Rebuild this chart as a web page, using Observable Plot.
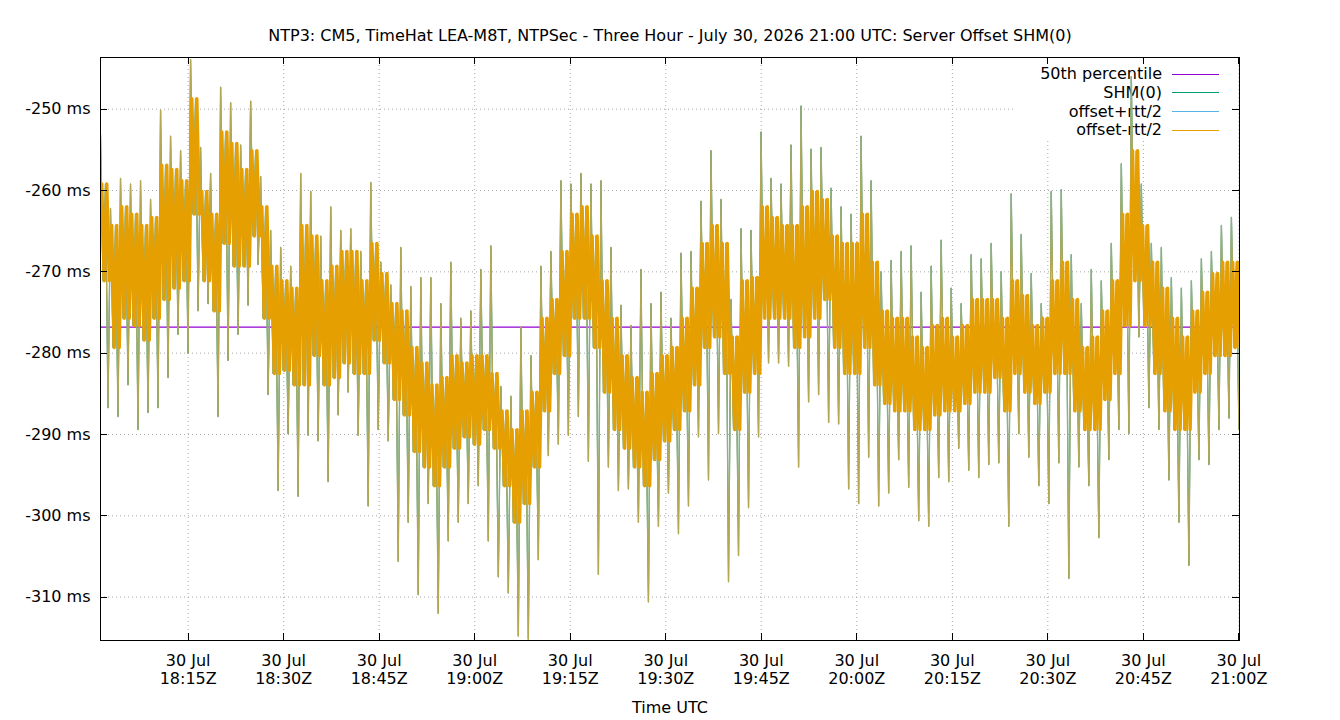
<!DOCTYPE html>
<html><head><meta charset="utf-8">
<script src="https://cdn.jsdelivr.net/npm/d3@7"></script>
<script src="https://cdn.jsdelivr.net/npm/@observablehq/plot@0.6"></script>
<style>body{margin:0;background:#fff;} #chart{width:1340px;height:720px;}</style>
</head><body><div id="chart"></div>
<script>
const title = "NTP3: CM5, TimeHat LEA-M8T, NTPSec - Three Hour - July 30, 2026 21:00 UTC: Server Offset SHM(0)";
const xLabel = "Time UTC";
const medianMs = -276.8;

// Per ~94 s bin (ms): extreme high spike, dense-band top, dense-band bottom, extreme low spike
const spikeHigh = [-253.1,-262.2,-258.5,-259.2,-258.8,-261.1,-250.1,-253.3,-255.1,-243.9,
-254.7,-257.9,-247.3,-249.2,-254.4,-249.0,-258.3,-264.9,-267.0,-269.3,
-257.9,-260.1,-265.6,-262.0,-264.9,-264.7,-267.5,-259.0,-268.8,-271.6,
-267.0,-271.8,-270.7,-270.7,-273.9,-268.8,-275.7,-274.8,-269.7,-266.8,
-284.1,-285.3,-276.8,-280.3,-269.3,-267.5,-258.8,-259.2,-257.9,-259.2,
-258.8,-267.0,-274.1,-276.6,-269.7,-273.9,-272.5,-275.7,-267.7,-267.5,
-261.3,-255.1,-261.1,-273.4,-264.7,-264.9,-252.8,-258.5,-259.2,-254.4,
-249.6,-254.9,-254.7,-259.7,-262.0,-262.9,-253.3,-258.8,-270.0,-268.6,
-267.5,-266.8,-272.5,-269.3,-266.1,-272.0,-273.9,-267.9,-268.4,-266.5,
-270.0,-260.4,-265.4,-270.2,-273.9,-260.1,-259.9,-267.9,-273.9,-269.7,
-271.1,-266.5,-256.7,-246.0,-259.2,-266.5,-267.0,-270.7,-272.0,-271.1,
-268.4,-267.5,-264.3,-263.3];
const coreHigh = [-259.2,-264.3,-262.0,-262.9,-264.3,-263.3,-256.9,-257.4,-258.8,-248.7,
-260.1,-262.9,-252.8,-254.2,-257.4,-255.1,-262.0,-269.3,-271.1,-272.0,
-264.3,-265.6,-271.1,-269.3,-267.5,-267.5,-271.1,-266.5,-270.2,-273.9,
-274.8,-279.3,-281.2,-283.9,-283.0,-280.3,-281.2,-280.3,-280.3,-282.5,
-287.1,-289.4,-287.1,-284.8,-275.7,-273.4,-267.5,-262.9,-262.0,-265.6,
-271.1,-275.7,-280.3,-283.0,-284.8,-282.5,-280.3,-279.3,-275.7,-272.0,
-266.5,-264.3,-266.5,-278.0,-271.1,-270.7,-262.0,-263.3,-264.3,-264.3,
-262.0,-260.1,-261.1,-265.6,-266.5,-266.5,-262.9,-268.8,-274.8,-275.7,
-275.7,-278.0,-279.3,-276.6,-275.7,-278.0,-276.6,-273.4,-273.4,-273.4,
-275.7,-271.1,-272.9,-276.6,-275.7,-271.1,-268.8,-273.4,-279.3,-278.0,
-274.8,-271.1,-262.9,-255.1,-264.3,-268.8,-272.0,-275.7,-278.0,-274.8,
-272.5,-270.2,-268.8,-268.8];
const coreLow = [-271.1,-279.3,-275.7,-276.6,-278.4,-275.7,-273.4,-272.0,-271.1,-262.9,
-271.1,-274.8,-266.5,-269.3,-269.3,-265.6,-275.7,-282.5,-282.1,-283.9,
-283.9,-280.3,-283.9,-283.0,-281.2,-282.5,-282.5,-278.4,-281.2,-285.7,
-287.6,-292.1,-294.0,-296.3,-294.0,-291.7,-290.3,-291.2,-289.4,-291.7,
-296.3,-300.8,-298.5,-294.0,-287.1,-282.5,-280.3,-275.7,-275.7,-279.3,
-284.8,-289.4,-291.7,-294.0,-296.3,-293.1,-290.8,-289.4,-287.1,-283.9,
-279.3,-278.0,-282.5,-289.4,-284.8,-282.5,-275.7,-275.7,-275.7,-279.3,
-278.0,-275.7,-273.4,-279.3,-282.5,-282.5,-279.3,-283.9,-286.2,-287.1,
-287.1,-289.4,-289.4,-287.6,-287.1,-287.1,-286.2,-284.8,-284.8,-283.0,
-287.1,-282.5,-284.8,-286.2,-284.8,-282.5,-282.5,-287.1,-289.4,-289.4,
-285.7,-282.5,-276.6,-271.1,-276.6,-282.5,-287.1,-289.4,-289.4,-284.8,
-282.5,-280.3,-280.3,-279.3];
const spikeLow = [-286.7,-287.8,-283.9,-289.4,-287.3,-286.7,-283.0,-277.7,-280.0,-274.8,
-273.9,-287.8,-280.9,-277.7,-274.1,-269.1,-285.1,-296.9,-289.9,-297.6,
-290.1,-290.8,-295.8,-287.6,-284.8,-290.1,-298.8,-289.4,-290.8,-305.6,
-300.8,-309.7,-298.5,-312.0,-303.1,-300.8,-298.5,-296.3,-303.1,-307.5,
-309.5,-314.8,-315.2,-305.4,-292.6,-291.2,-290.1,-287.8,-293.3,-307.2,
-294.0,-296.9,-296.7,-300.8,-310.6,-301.3,-297.2,-302.2,-298.8,-290.3,
-295.6,-289.9,-308.1,-304.9,-299.0,-290.3,-281.2,-281.2,-281.6,-294.0,
-286.0,-285.1,-288.5,-288.7,-296.7,-298.5,-292.8,-298.8,-297.2,-293.1,
-296.5,-300.6,-301.3,-295.3,-295.8,-291.7,-294.4,-295.3,-293.7,-293.5,
-301.3,-289.9,-292.8,-296.3,-298.5,-293.5,-307.7,-294.0,-296.3,-302.7,
-293.1,-289.4,-289.9,-278.0,-286.7,-289.4,-295.6,-300.8,-306.1,-293.1,
-293.7,-289.4,-288.0,-289.4];

const xTickTimes = ["2026-07-30T18:15:00Z","2026-07-30T18:30:00Z","2026-07-30T18:45:00Z","2026-07-30T19:00:00Z",
"2026-07-30T19:15:00Z","2026-07-30T19:30:00Z","2026-07-30T19:45:00Z","2026-07-30T20:00:00Z",
"2026-07-30T20:15:00Z","2026-07-30T20:30:00Z","2026-07-30T20:45:00Z","2026-07-30T21:00:00Z"];
const xTickDay = "30 Jul";
const xTickClock = ["18:15Z","18:30Z","18:45Z","19:00Z","19:15Z","19:30Z","19:45Z","20:00Z","20:15Z","20:30Z","20:45Z","21:00Z"];
const yTicks = [-250,-260,-270,-280,-290,-300,-310];
const yTickLabels = ["-250 ms","-260 ms","-270 ms","-280 ms","-290 ms","-300 ms","-310 ms"];
const seriesNames = ["50th percentile","SHM(0)","offset+rtt/2","offset-rtt/2"];
const seriesColors = ["#9400d3","#009e73","#56b4e9","#e69f00"];

const domainStart = new Date("2026-07-30T18:01:14Z");
const domainEnd = new Date("2026-07-30T21:00:06Z");
const binSeconds = 94.3;

const xTickDates = xTickTimes.map(s => new Date(s));
// full excursions (all samples) and the dense band of the same series
const samples = [];
const coreSamples = [];
spikeHigh.forEach((h, i) => {
  [spikeHigh[i], coreLow[i], coreHigh[i], spikeLow[i]].forEach((v, k) =>
    samples.push({t: new Date(+domainStart + (i + k / 4) * binSeconds * 1000), v}));
  [coreHigh[i], coreLow[i], coreHigh[i], coreLow[i]].forEach((v, k) =>
    coreSamples.push({t: new Date(+domainStart + (i + (k + 0.5) / 4) * binSeconds * 1000), v}));
});

function legendMark(index, scales, values, dims) {
  const g = d3.create("svg:g");
  const right = dims.width - dims.marginRight;
  const top = dims.marginTop;
  g.append("rect").attr("x", right - 226).attr("y", top + 1).attr("width", 216).attr("height", 80).attr("fill", "white");
  seriesNames.forEach((name, i) => {
    const yy = top + 16.5 + i * 18.7;
    g.append("text").attr("x", right - 77).attr("y", yy).attr("dy", "0.35em")
      .attr("text-anchor", "end").attr("fill", "black").text(name);
    g.append("line").attr("x1", right - 67).attr("x2", right - 20).attr("y1", Math.round(yy) + 0.5).attr("y2", Math.round(yy) + 0.5)
      .attr("stroke", seriesColors[i]).attr("stroke-width", 1);
  });
  return g.node();
}

function frameTicks(index, {x, y}, values, dims) {
  const g = d3.create("svg:g").attr("stroke", "black").attr("stroke-width", 1);
  const L = dims.marginLeft, R = dims.width - dims.marginRight, T = dims.marginTop, B = dims.height - dims.marginBottom;
  yTicks.forEach(v => {
    const yy = Math.round(y(v)) + 0.5;
    g.append("line").attr("x1", L).attr("x2", L + 7).attr("y1", yy).attr("y2", yy);
    g.append("line").attr("x1", R - 7).attr("x2", R).attr("y1", yy).attr("y2", yy);
  });
  xTickDates.forEach(d => {
    const xx = Math.round(x(d)) + 0.5;
    g.append("line").attr("x1", xx).attr("x2", xx).attr("y1", B - 7).attr("y2", B);
    g.append("line").attr("x1", xx).attr("x2", xx).attr("y1", T).attr("y2", T + 7);
  });
  return g.node();
}

const gridStyle = {stroke: "#a8a8a8", strokeWidth: 1, strokeDasharray: "1,3"};

const chart = Plot.plot({
  width: 1340, height: 720,
  marginLeft: 100, marginRight: 101, marginTop: 57, marginBottom: 80,
  style: {fontFamily: "DejaVu Sans, sans-serif", fontSize: "16px", background: "white", color: "black"},
  x: {type: "utc", domain: [domainStart, domainEnd], axis: null},
  y: {domain: [-315.34, -243.64], axis: null},
  marks: [
    Plot.ruleX(xTickDates, {x: d => d, ...gridStyle}),
    Plot.ruleY(yTicks, {y: d => d, ...gridStyle}),
    legendMark,
    Plot.ruleY([medianMs], {y: d => d, stroke: seriesColors[0], strokeWidth: 1.3}),
    Plot.lineY(samples, {x: "t", y: "v", stroke: seriesColors[1], strokeWidth: 1, clip: true}),
    Plot.lineY(samples, {x: "t", y: "v", stroke: seriesColors[2], strokeWidth: 1.3, clip: true}),
    Plot.lineY(samples, {x: "t", y: "v", stroke: seriesColors[3], strokeWidth: 1.3, strokeOpacity: 0.65, clip: true}),
    Plot.lineY(coreSamples, {x: "t", y: "v", stroke: seriesColors[3], strokeWidth: 3.4, clip: true}),
    frameTicks,
    Plot.frame({stroke: "black", strokeWidth: 1}),
    Plot.text(yTicks, {y: d => d, text: (d, i) => yTickLabels[i], frameAnchor: "left", textAnchor: "end", dx: -10, fill: "black"}),
    Plot.text(xTickDates, {x: d => d, text: (d, i) => xTickDay + "\n" + xTickClock[i], frameAnchor: "bottom", lineAnchor: "top", lineHeight: 1.15, dy: 12, fill: "black"}),
    Plot.text([xLabel], {text: d => d, frameAnchor: "bottom", dy: 72, fill: "black"}),
    Plot.text([title], {text: d => d, frameAnchor: "top", dy: -28, fill: "black"})
  ]
});
document.getElementById("chart").appendChild(chart);
</script>
</body></html>
